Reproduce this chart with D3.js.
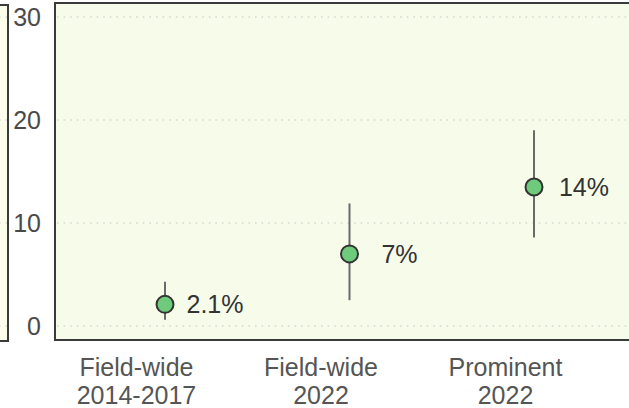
<!DOCTYPE html>
<html>
<head>
<meta charset="utf-8">
<script src="https://cdn.jsdelivr.net/npm/d3@7"></script>
<style>
  html, body { margin: 0; padding: 0; background: #ffffff; }
  svg { display: block; font-family: "Liberation Sans", Arial, Helvetica, sans-serif; }
</style>
</head>
<body>
<svg id="chart" width="629" height="408"></svg>
<script>
// Share estimates with their intervals, one entry per group
const categories = ["Field-wide\n2014-2017", "Field-wide\n2022", "Prominent\n2022"];
const estimates  = [2.1, 7, 13.5];
const lowerBound = [0.6, 2.5, 8.6];
const upperBound = [4.3, 11.9, 19.0];
const yTicks     = [0, 10, 20, 30];

const W = 629, H = 408;
const panel = { left: 55, top: 3, right: 660, bottom: 340 };
const dodge = 29;   // points sit a little right of their group label

const svg = d3.select("#chart");

const x = d3.scalePoint().domain(categories).range([136, 505]);
const y = d3.scaleLinear().domain([0, 30]).range([326, 17]);

// Neighbouring panel, clipped at the left edge
svg.append("rect")
  .attr("x", -100).attr("y", 5)
  .attr("width", 108).attr("height", 336)
  .attr("fill", "#fbfdea").attr("stroke", "#3a3a3a").attr("stroke-width", 2);

svg.append("g").selectAll("line").data(yTicks).join("line")
  .attr("x1", -100).attr("x2", 7)
  .attr("y1", d => y(d)).attr("y2", d => y(d))
  .attr("stroke", "#d6d8cc").attr("stroke-width", 1.6)
  .attr("stroke-dasharray", "1.6,5");

// Main panel
svg.append("rect")
  .attr("x", panel.left).attr("y", panel.top)
  .attr("width", panel.right - panel.left).attr("height", panel.bottom - panel.top)
  .attr("fill", "#f7fcea").attr("stroke", "#3a3a3a").attr("stroke-width", 2);

// Dotted horizontal grid
svg.append("g").selectAll("line").data(yTicks).join("line")
  .attr("x1", panel.left + 2).attr("x2", W)
  .attr("y1", d => y(d)).attr("y2", d => y(d))
  .attr("stroke", "#d6d8cc").attr("stroke-width", 1.6)
  .attr("stroke-dasharray", "1.6,5");

// Y axis labels
const yAxis = svg.append("g")
  .attr("transform", `translate(${panel.left - 14},0)`)
  .call(d3.axisLeft(y).tickValues(yTicks).tickSize(0).tickPadding(0).tickFormat(d3.format("d")));
yAxis.select(".domain").remove();
yAxis.selectAll("text")
  .attr("fill", "#4a4a4a")
  .style("font-size", "25px")
  .style("font-family", "Liberation Sans, Arial, sans-serif");

// X axis labels (two lines each)
const xAxis = svg.append("g")
  .attr("transform", `translate(0,${panel.bottom})`)
  .call(d3.axisBottom(x).tickSize(0).tickFormat(""));
xAxis.select(".domain").remove();
xAxis.selectAll(".tick").each(function(d) {
  const t = d3.select(this).append("text")
    .attr("text-anchor", "middle")
    .attr("fill", "#555555")
    .style("font-size", "25px");
  d.split("\n").forEach((line, i) => {
    t.append("tspan").attr("x", 0).attr("y", 36 + i * 28).text(line);
  });
});

const data = categories.map((c, i) => ({
  cat: c, est: estimates[i], lo: lowerBound[i], hi: upperBound[i]
}));
const fmt = v => d3.format(".2~r")(v) + "%";

const marks = svg.append("g");

// Interval whiskers
marks.selectAll("line.ci").data(data).join("line")
  .attr("class", "ci")
  .attr("x1", d => x(d.cat) + dodge).attr("x2", d => x(d.cat) + dodge)
  .attr("y1", d => y(d.lo)).attr("y2", d => y(d.hi))
  .attr("stroke", "#6a6a6a").attr("stroke-width", 2);

// Point estimates
marks.selectAll("circle").data(data).join("circle")
  .attr("cx", d => x(d.cat) + dodge).attr("cy", d => y(d.est))
  .attr("r", 8.5)
  .attr("fill", "#6fcb7c").attr("stroke", "#333333").attr("stroke-width", 2);

// Value labels
marks.selectAll("text.val").data(data).join("text")
  .attr("class", "val")
  .attr("x", d => x(d.cat) + dodge + 50).attr("y", d => y(d.est))
  .attr("dy", "0.36em")
  .attr("text-anchor", "middle")
  .attr("fill", "#333333")
  .style("font-size", "25px")
  .text(d => fmt(d.est));
</script>
</body>
</html>
